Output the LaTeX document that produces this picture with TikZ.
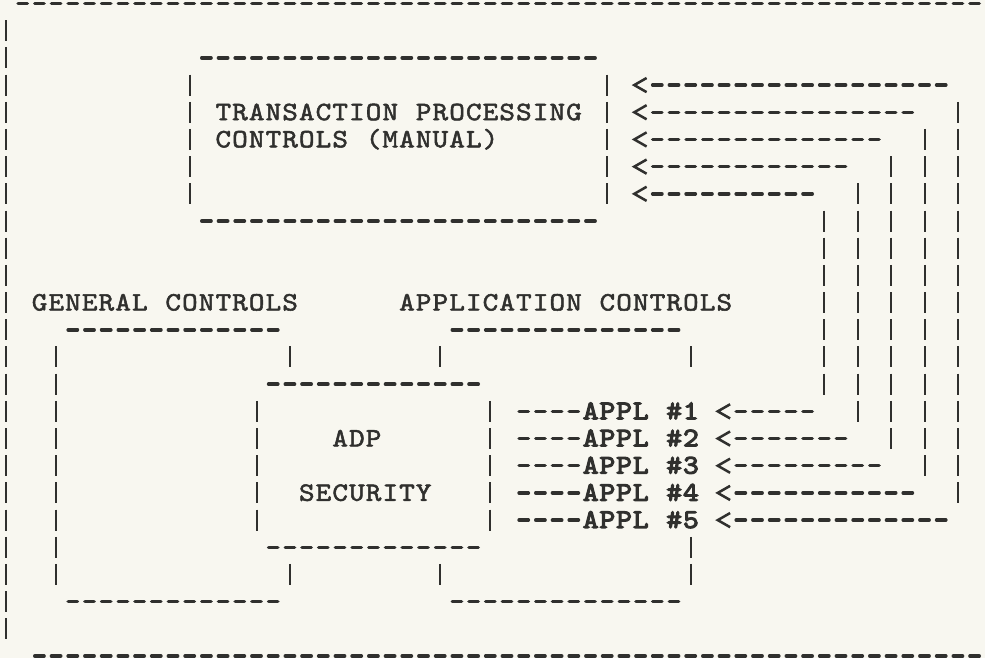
\documentclass[tikz,border=0pt]{standalone}
\usepackage{fontspec}
\newfontfamily\typewriter{lmmono10-regular.otf}[FakeBold=2, FakeStretch=1.12]
\newfontfamily\typewriterbold{lmmono10-regular.otf}[FakeBold=4, FakeStretch=1.12]
\definecolor{ink}{RGB}{48,48,46}
\definecolor{paper}{RGB}{248,247,240}

% set a line of text on the typewriter grid, one character per 16.7pt cell
\ExplSyntaxOn
\str_new:N \l__grid_str
\cs_new_protected:Npn \gridtext #1
  {
    \str_set:Nx \l__grid_str {#1}
    \str_map_inline:Nn \l__grid_str
      { \hbox_to_wd:nn { 16.7pt } { \hss ##1 \hss } }
  }
\cs_new:Npn \hashmark { \c_hash_str }
\ExplSyntaxOff

% one column = one typewriter character, one row = one typed line
\newcommand\dashrow[3]{\draw[hyph] ({#2-0.2784},#1) -- ({#3+0.2784},#1);}
\newcommand\barcol[3]{\draw[vbar] (#1,{#2-0.3862}) -- (#1,{#3+0.3862});}
\newcommand\ltmark[2]{\draw[chev] ({#1+0.36},{#2-0.26}) -- ({#1-0.38},#2) -- ({#1+0.36},{#2+0.26});}

\begin{document}
\begin{tikzpicture}[x=16.7pt,y=-27.19pt,
  hyph/.style={draw=ink, line width=3.5pt, line cap=round, dash pattern=on 9.3pt off 7.4pt},
  vbar/.style={draw=ink, line width=2pt, dash pattern=on 21pt off 6.19pt},
  chev/.style={draw=ink, line width=2.5pt, line join=miter},
  lbl/.style={anchor=base west, inner sep=0pt, text=ink,
    font=\typewriter\fontsize{26.5}{28}\selectfont},
  applbl/.style={lbl, font=\typewriterbold\fontsize{27}{28}\selectfont}]

\useasboundingbox (-0.3593,-0.1287) rectangle (58.623,24.071);
\fill[paper] (-0.3593,-0.1287) rectangle (58.623,24.071);

% outer frame: top and bottom rules, left margin bar
\dashrow{0}{1}{58}
\dashrow{24}{2}{58}
\barcol{0}{1}{23}

% transaction processing box
\dashrow{2}{12}{35}
\dashrow{8}{12}{35}
\barcol{11}{3}{7}
\barcol{36}{3}{7}
\node[lbl] (tpc1) at (12.5,4.29) {\gridtext{TRANSACTION PROCESSING}};
\node[lbl] (tpc2) at (12.5,5.29) {\gridtext{CONTROLS (MANUAL)}};

% feedback lines from the applications to the manual controls
\foreach \i in {1,...,5}{
  \pgfmathtruncatemacro\k{2+\i}
  \pgfmathtruncatemacro\e{58-2*\i}
  \pgfmathtruncatemacro\b{59-2*\i}
  \pgfmathtruncatemacro\s{3+\i}
  \pgfmathtruncatemacro\t{19-\i}
  \ltmark{38}{\k}
  \dashrow{\k}{39}{\e}
  \barcol{\b}{\s}{\t}
}

% headings
\node[lbl] (gen) at (1.5,11.29) {\gridtext{GENERAL CONTROLS}};
\node[lbl] (app) at (23.5,11.29) {\gridtext{APPLICATION CONTROLS}};

% general controls box
\dashrow{12}{4}{16}
\dashrow{22}{4}{16}
\barcol{3}{13}{21}
\barcol{17}{13}{13}
\barcol{17}{21}{21}

% application controls box
\dashrow{12}{27}{40}
\dashrow{22}{27}{40}
\barcol{26}{13}{13}
\barcol{26}{21}{21}
\barcol{41}{13}{13}
\barcol{41}{20}{21}

% ADP security box
\dashrow{14}{16}{28}
\dashrow{20}{16}{28}
\barcol{15}{15}{19}
\barcol{29}{15}{19}
\node[lbl] (adp) at (19.5,16.29) {\gridtext{ADP}};
\node[lbl] (sec) at (17.5,18.29) {\gridtext{SECURITY}};

% applications
\foreach \j in {1,...,5}{
  \pgfmathtruncatemacro\k{14+\j}
  \pgfmathtruncatemacro\e{46+2*\j}
  \dashrow{\k}{31}{34}
  \node[applbl] (appl\j) at (34.5,\k+0.29) {\gridtext{APPL \hashmark\j}};
  \ltmark{43}{\k}
  \dashrow{\k}{44}{\e}
}
\end{tikzpicture}
\end{document}
